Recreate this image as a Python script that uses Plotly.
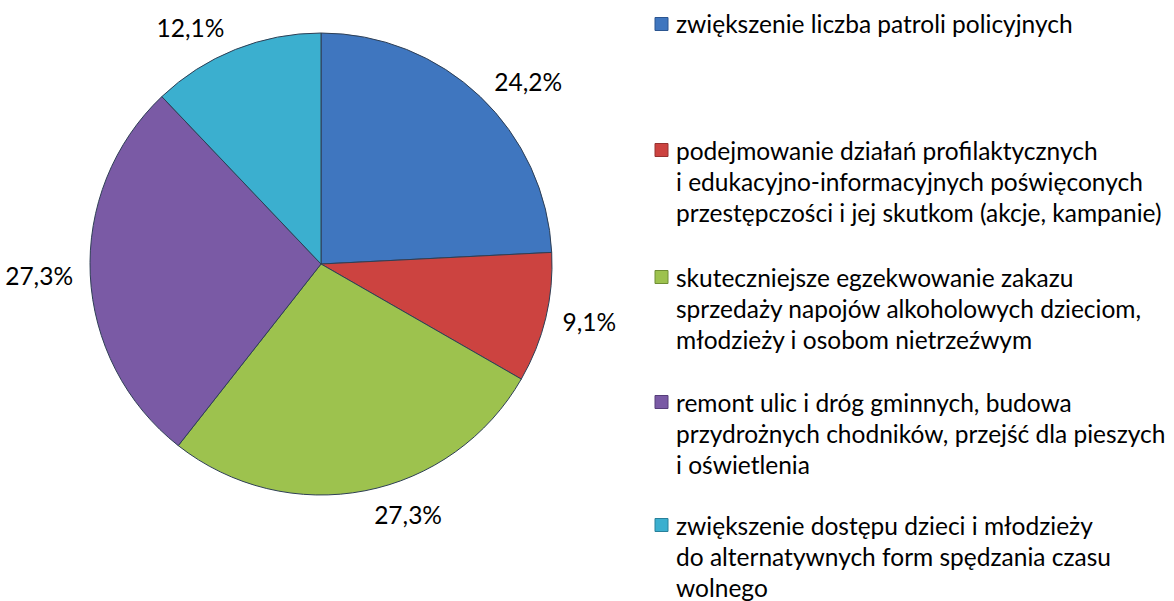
import plotly.graph_objects as go

# Survey answers (share of responses, %)
categories = [
    "zwiększenie liczba patroli policyjnych",
    "podejmowanie działań profilaktycznych i edukacyjno-informacyjnych poświęconych przestępczości i jej skutkom (akcje, kampanie)",
    "skuteczniejsze egzekwowanie zakazu sprzedaży napojów alkoholowych dzieciom, młodzieży i osobom nietrzeźwym",
    "remont ulic i dróg gminnych, budowa przydrożnych chodników, przejść dla pieszych i oświetlenia",
    "zwiększenie dostępu dzieci i młodzieży do alternatywnych form spędzania czasu wolnego",
]
shares = [24.2, 9.1, 27.3, 27.3, 12.1]

# Legend text, wrapped line by line
legend_lines = [
    ["zwiększenie liczba patroli policyjnych"],
    ["podejmowanie działań profilaktycznych",
     "i edukacyjno-informacyjnych poświęconych",
     "przestępczości i jej skutkom (akcje, kampanie)"],
    ["skuteczniejsze egzekwowanie zakazu",
     "sprzedaży napojów alkoholowych dzieciom,",
     "młodzieży i osobom nietrzeźwym"],
    ["remont ulic i dróg gminnych, budowa",
     "przydrożnych chodników, przejść dla pieszych",
     "i oświetlenia"],
    ["zwiększenie dostępu dzieci i młodzieży",
     "do alternatywnych form spędzania czasu",
     "wolnego"],
]

colors = ["#3F76BF", "#CC4340", "#9DC24E", "#7A5AA5", "#3BAFCF"]
edge_colors = ["#2B5590", "#963230", "#6F8E34", "#563E7A", "#28809A"]

W, H = 1174, 601
FONT = "Lato"
FS = 24.5


def px(x):
    return x / W


def py(y):
    return 1 - y / H


def dom(cx, cy, r):
    return dict(x=[px(cx - r), px(cx + r)], y=[py(cy + r), py(cy - r)])


CX, CY = 321, 264

fig = go.Figure()

# Outer transparent ring that carries the percentage labels a bit away from the pie
fig.add_trace(go.Pie(
    labels=categories,
    values=shares,
    sort=False,
    direction="clockwise",
    rotation=0,
    domain=dom(CX, CY, 241),
    marker=dict(colors=["rgba(0,0,0,0)"] * 5, line=dict(width=0)),
    textposition="outside",
    texttemplate="%{value:.1f}%",
    textfont=dict(family=FONT, size=FS, color="#000000"),
    hoverinfo="skip",
    showlegend=False,
))

# Visible pie
fig.add_trace(go.Pie(
    labels=categories,
    values=shares,
    sort=False,
    direction="clockwise",
    rotation=0,
    domain=dom(CX, CY, 231),
    marker=dict(colors=colors, line=dict(color="#2E3F55", width=1)),
    textinfo="none",
    hovertemplate="%{label}<br>%{value:.1f}%<extra></extra>",
    showlegend=False,
))

# Custom legend: square key plus wrapped text
first_line_y = [24, 150, 277, 402, 525]
line_h = 31.3
annotations = []
shapes = []
for i, lines in enumerate(legend_lines):
    y0 = first_line_y[i]
    shapes.append(dict(
        type="rect", xref="paper", yref="paper",
        x0=px(655), x1=px(668), y0=py(y0 + 6.5), y1=py(y0 - 6.5),
        fillcolor=colors[i], line=dict(color=edge_colors[i], width=1),
    ))
    for j, t in enumerate(lines):
        annotations.append(dict(
            text=t, xref="paper", yref="paper",
            x=px(674), y=py(y0 + j * line_h),
            xanchor="left", yanchor="middle", showarrow=False,
            font=dict(family=FONT, size=FS, color="#000000"),
        ))

fig.update_layout(
    width=W, height=H,
    margin=dict(l=0, r=0, t=0, b=0),
    paper_bgcolor="white",
    plot_bgcolor="white",
    separators=",.",
    annotations=annotations,
    shapes=shapes,
    showlegend=False,
)

fig.write_html("out.html")
